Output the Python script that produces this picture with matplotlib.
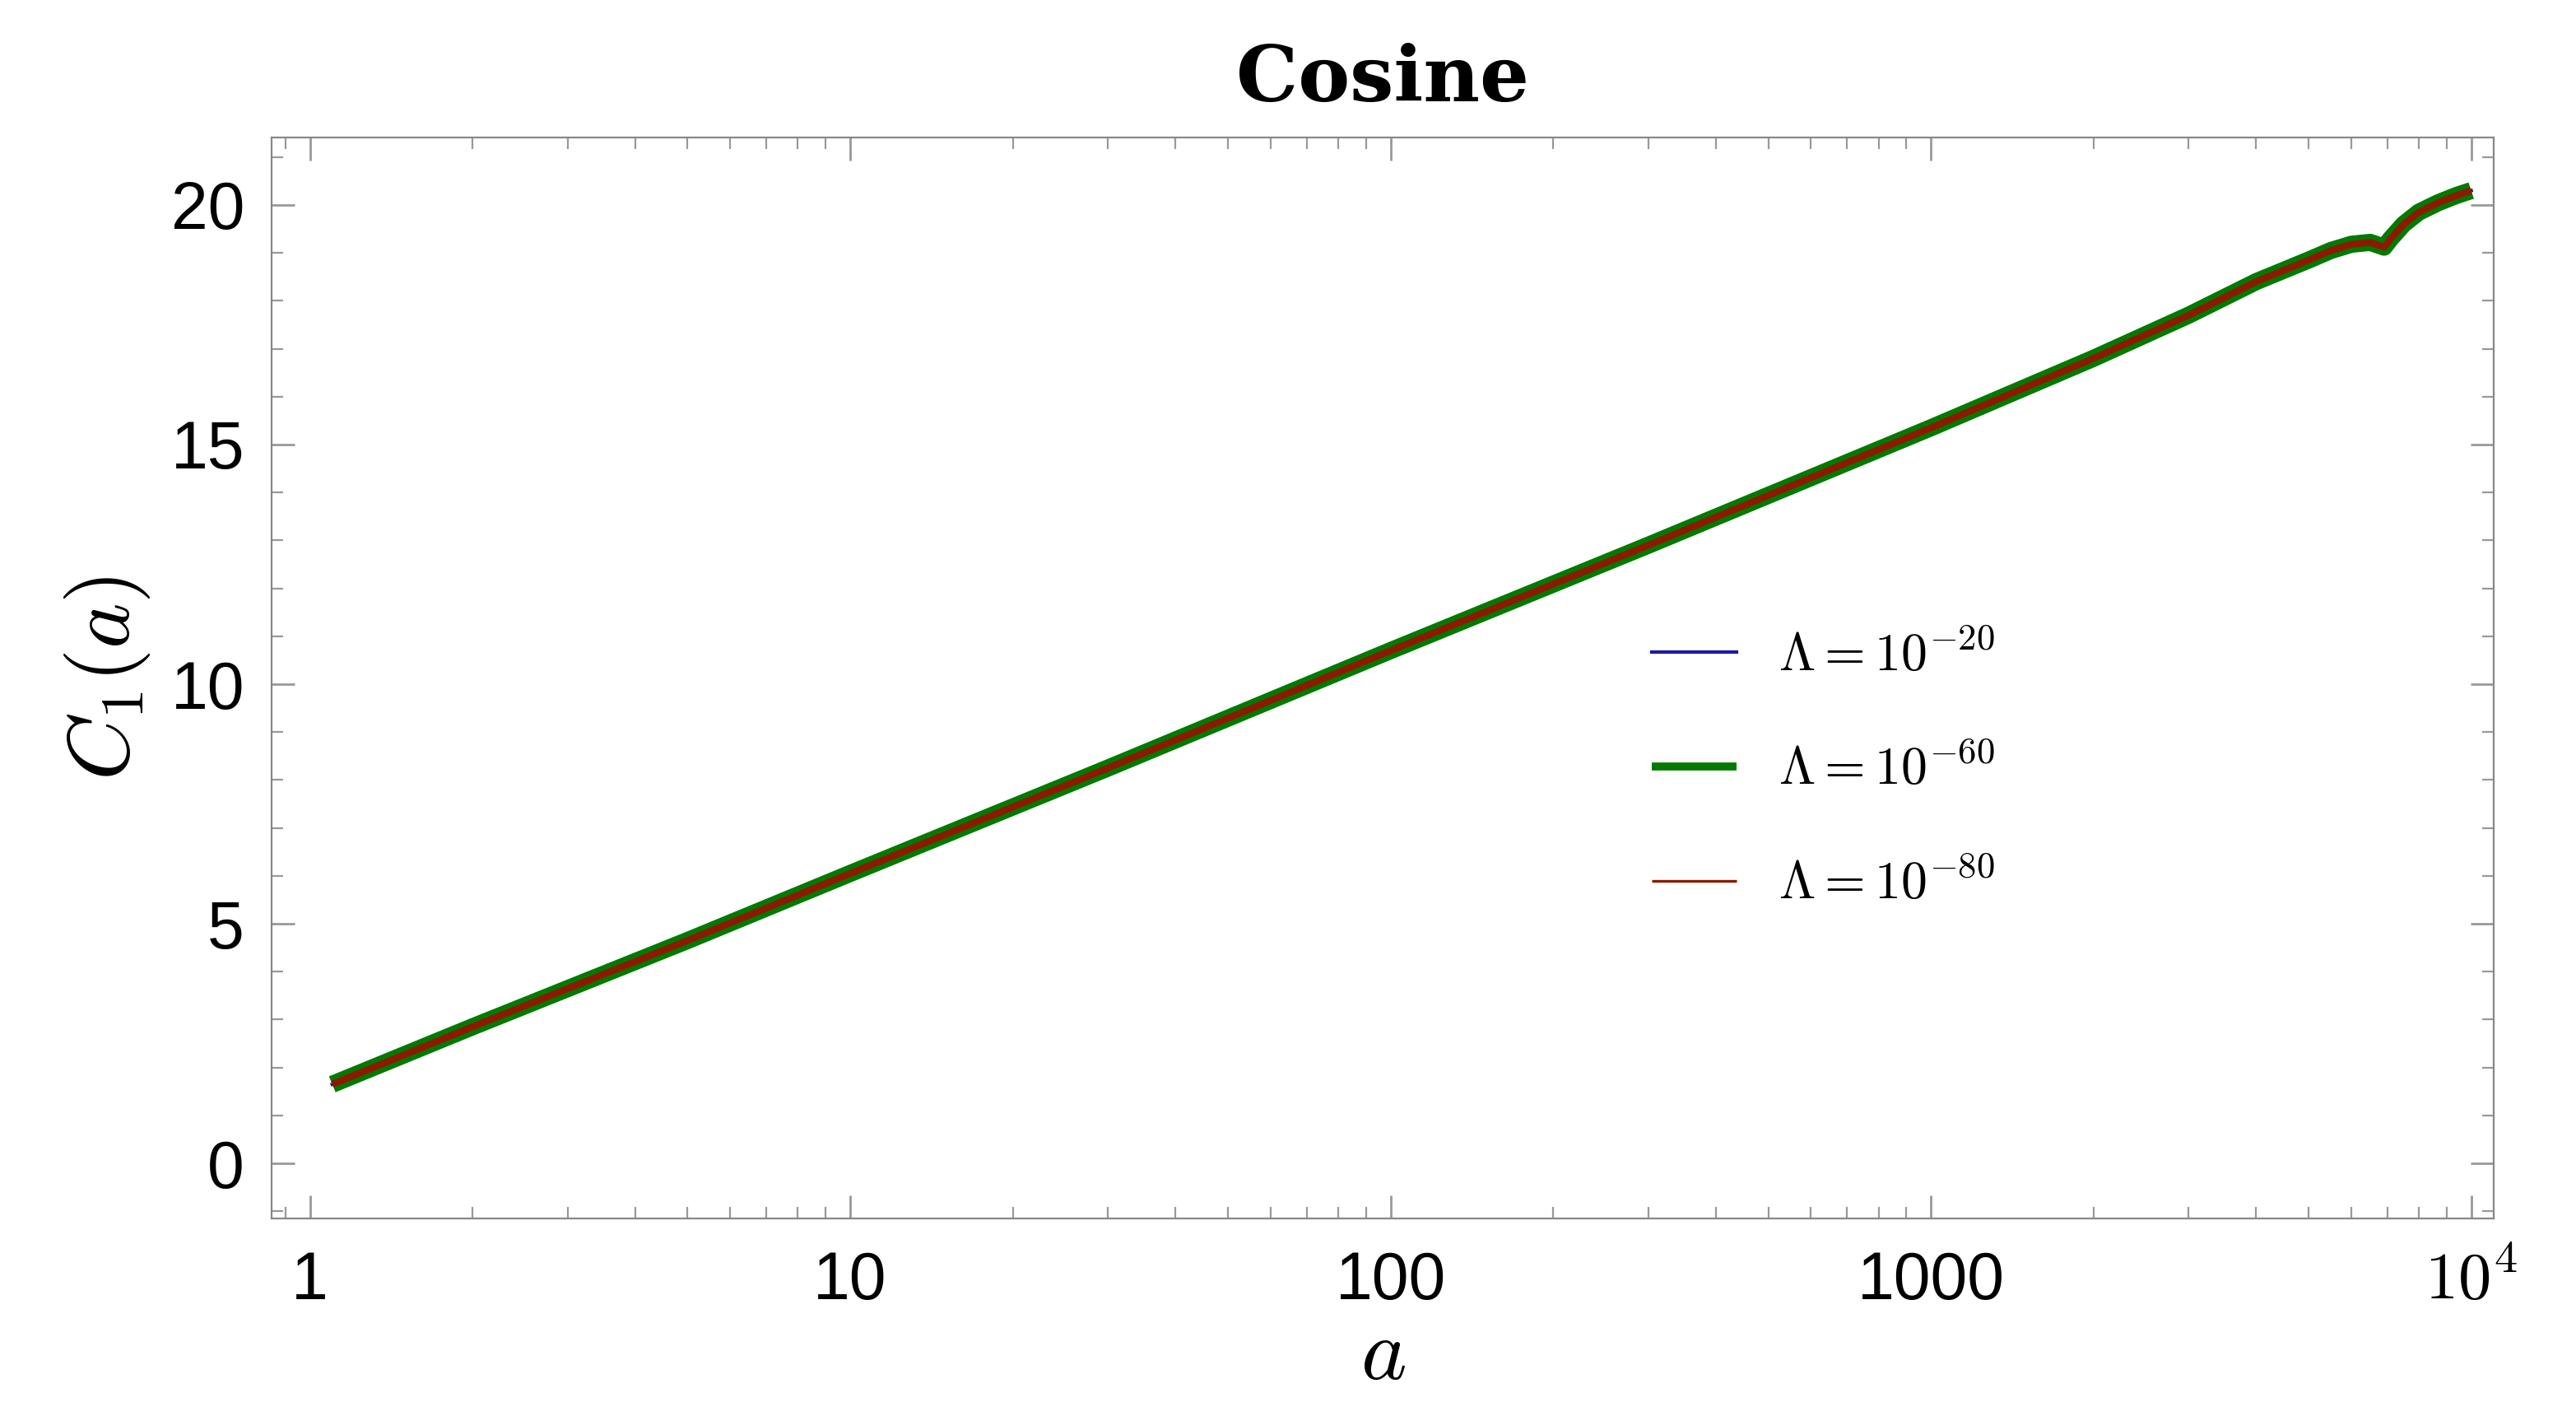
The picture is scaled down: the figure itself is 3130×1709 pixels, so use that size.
import matplotlib
matplotlib.use("Agg")
import matplotlib.pyplot as plt
from matplotlib.ticker import MultipleLocator, LogLocator, NullFormatter

a_vals = [1.1, 2, 5, 10, 30, 100, 300, 1000, 2000, 3000, 4000, 5000, 5500, 6000, 6500, 6900, 7100, 7500, 8000, 8700, 9400, 10000]
c_vals = [1.65, 2.85, 4.65, 6.05, 8.25, 10.7, 12.9, 15.35, 16.8, 17.7, 18.4, 18.85, 19.05, 19.18, 19.22, 19.12, 19.3, 19.6, 19.85, 20.05, 20.2, 20.3]
labels = [r"$\boldsymbol{\Lambda = 10^{-20}}$", r"$\boldsymbol{\Lambda = 10^{-60}}$", r"$\boldsymbol{\Lambda = 10^{-80}}$"]

plt.rcParams['mathtext.fontset'] = 'cm'
fig = plt.figure(figsize=(15.65, 8.545), dpi=200)
ax = fig.add_axes([0.1055, 0.134, 0.8625, 0.768])
ax.plot(a_vals, c_vals, color='#1a1aa8', lw=1.5, label=labels[0], zorder=2)
ax.plot(a_vals, c_vals, color='#007a00', lw=7.5, label=labels[1], zorder=3, solid_capstyle='butt')
ax.plot(a_vals, c_vals, color='#8b1a00', lw=3, label=labels[2], zorder=4, solid_capstyle='butt')
ax.set_xscale('log')
ax.set_xlim(0.85, 1.1e4)
ax.set_ylim(-1.15, 21.4)
ax.set_xticks([1, 10, 100, 1000, 10000])
ax.set_xticklabels(['1', '10', '100', '1000', r'$\mathsf{10^4}$'])
ax.xaxis.set_minor_locator(LogLocator(base=10, subs=range(2, 10)))
ax.xaxis.set_minor_formatter(NullFormatter())
ax.set_yticks([0, 5, 10, 15, 20])
ax.yaxis.set_minor_locator(MultipleLocator(1))
for s in ax.spines.values():
    s.set_color('#888888')
ax.tick_params(which='both', direction='in', top=True, right=True, colors='#999999', labelcolor='black', labelsize=29)
ax.tick_params(which='major', length=10, width=1)
ax.tick_params(which='minor', length=5, width=0.8)
ax.tick_params(axis='x', pad=14)
ax.tick_params(axis='y', pad=12)
for t in ax.get_xticklabels() + ax.get_yticklabels():
    t.set_family('Liberation Sans')
ax.set_xlabel(r'$a$', fontsize=38, labelpad=0)
ax.set_ylabel(r'$C_1(a)$', fontsize=38, labelpad=8)
ax.set_title('Cosine', fontsize=34, fontweight='bold', family='DejaVu Serif', pad=16)
leg = ax.legend(loc='center left', bbox_to_anchor=(0.6, 0.415), frameon=False, fontsize=23, handlelength=1.6, labelspacing=1.2)
for line, w in zip(leg.get_lines(), [1.5, 3.5, 1.2]):
    line.set_linewidth(w)
fig.savefig('out.png')
